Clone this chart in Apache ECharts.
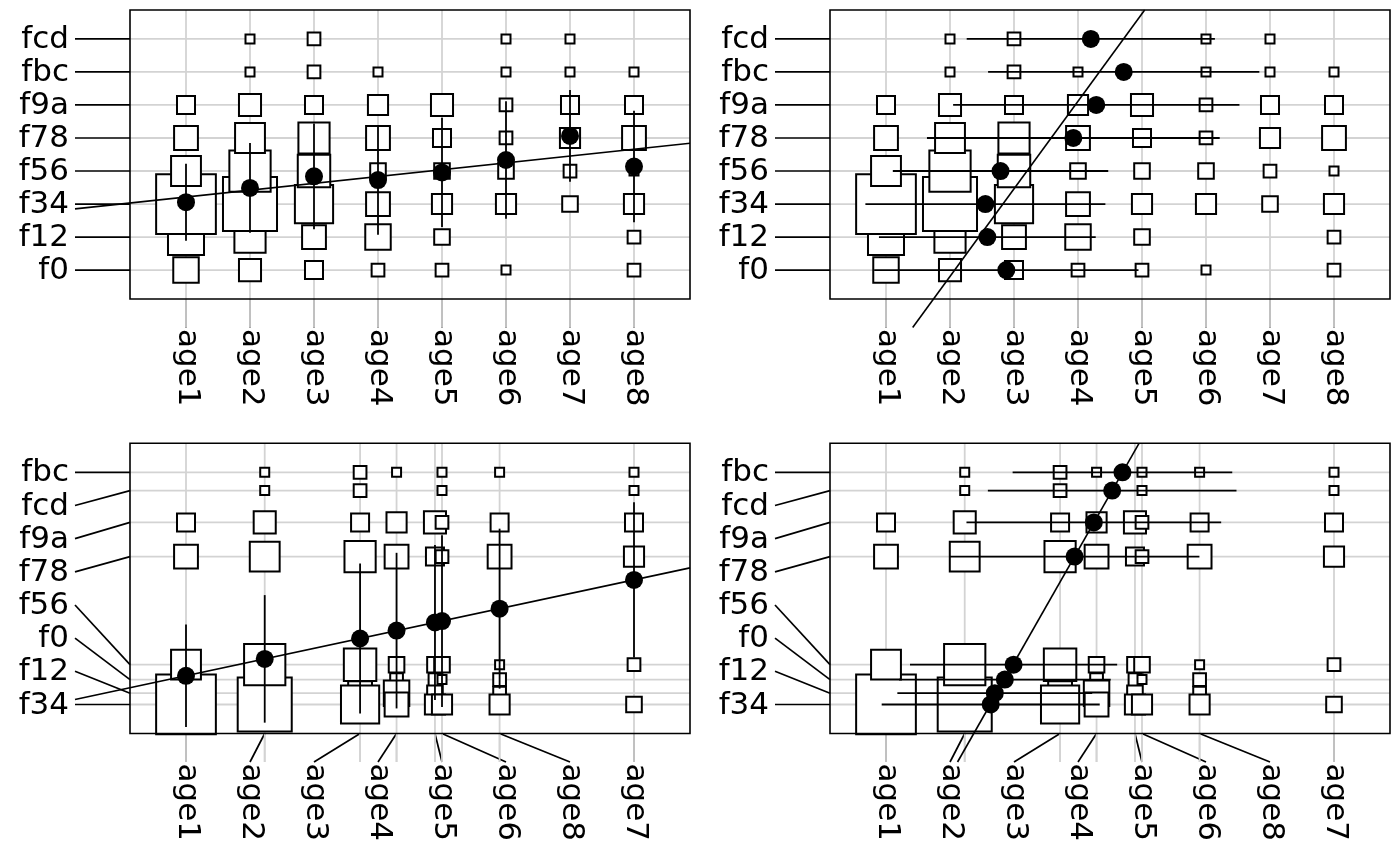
<!DOCTYPE html>
<html><head><meta charset="utf-8">
<script src="https://cdn.jsdelivr.net/npm/echarts@6/dist/echarts.min.js"></script>
<style>html,body{margin:0;padding:0;background:#fff}#c{width:1400px;height:866px}</style>
</head><body><div id="c"></div>
<script>
// ---- data (contingency table: fecundity classes x age classes) ----
const rowNames = ['f0','f12','f34','f56','f78','f9a','fbc','fcd'];
const colNames = ['age1','age2','age3','age4','age5','age6','age7','age8'];
const f0  = [8, 6, 4, 2, 2, 1, 0, 2];
const f12 = [16, 12, 7, 8, 3, 0, 0, 2];
const f34 = [44, 36, 18, 7, 5, 5, 3, 5];
const f56 = [11, 21, 13, 3, 3, 3, 2, 1];
const f78 = [7, 11, 12, 7, 4, 2, 5, 7];
const f9a = [4, 6, 4, 5, 6, 2, 4, 4];
const fbc = [0, 1, 2, 1, 0, 1, 1, 1];
const fcd = [0, 1, 2, 0, 0, 1, 1, 0];
const counts = [f0, f12, f34, f56, f78, f9a, fbc, fcd];
// positions: rank positions (top) and correspondence-analysis scores rescaled to 1..8 (bottom)
const rowIndexPos = [1, 2, 3, 4, 5, 6, 7, 8];
const colIndexPos = [1, 2, 3, 4, 5, 6, 7, 8];
const rowScore = [1.75, 1.34, 1.00, 2.20, 5.46, 6.49, 8.00, 7.45];
const colScore = [1.00, 2.23, 3.72, 4.29, 4.89, 5.00, 8.00, 5.90];

// ---- layout ----
const W = 700, H = 433;
const FONT = 'DejaVu Sans', FS = 31;
const panels = [
  {left: 0,   top: 0,   box: [130, 690, 10, 299],      xp: colIndexPos, yp: rowIndexPos, mode: 'x'},
  {left: 700, top: 0,   box: [830, 1390, 10, 299],     xp: colIndexPos, yp: rowIndexPos, mode: 'y'},
  {left: 0,   top: 433, box: [130, 690, 443.3, 733.5], xp: colScore,    yp: rowScore,    mode: 'x'},
  {left: 700, top: 433, box: [830, 1390, 443.3, 733.5], xp: colScore,   yp: rowScore,    mode: 'y'}
];

function labelPositions(pos) {
  const n = pos.length, mn = Math.min(...pos), mx = Math.max(...pos);
  const idx = pos.map((p, i) => i).sort((a, b) => pos[a] - pos[b]);
  const out = new Array(n);
  idx.forEach((i, r) => { out[i] = mn + r * (mx - mn) / (n - 1); });
  return out;
}

let maxN = 0;
counts.forEach(r => r.forEach(v => { if (v > maxN) maxN = v; }));

const grids = [], xAxes = [], yAxes = [], series = [];

panels.forEach((P, k) => {
  const [bx0, bx1, by0, by1] = P.box;
  const sx = (bx1 - bx0) / 8.75, sy = (by1 - by0) / 8.75;
  grids.push({left: P.left, top: P.top, width: W, height: H});
  xAxes.push({type: 'value', gridIndex: k, show: false,
    min: 0.125 - (bx0 - P.left) / sx, max: 0.125 + (P.left + W - bx0) / sx});
  yAxes.push({type: 'value', gridIndex: k, show: false,
    min: 0.125 - (P.top + H - by1) / sy, max: 0.125 + (by1 - P.top) / sy});
  const xp = P.xp, yp = P.yp;
  const xl = labelPositions(xp), yl = labelPositions(yp);
  const base = {xAxisIndex: k, yAxisIndex: k, silent: true, animation: false};

  // gray grid lines
  const gridData = [];
  xp.forEach(x => gridData.push([x, 0, 0]));
  yp.forEach(y => gridData.push([0, y, 1]));
  series.push(Object.assign({}, base, {type: 'custom', z: 1, data: gridData,
    renderItem: (params, api) => {
      const lo = api.coord([0.125, 0.125]), hi = api.coord([8.875, 8.875]);
      if (api.value(2) === 0) {
        const x = api.coord([api.value(0), 0.125])[0];
        return {type: 'line', shape: {x1: x, y1: hi[1], x2: x, y2: lo[1] + 28.5},
          style: {stroke: '#d3d3d3', lineWidth: 1.8}};
      }
      const y = api.coord([0.125, api.value(1)])[1];
      return {type: 'line', shape: {x1: lo[0], y1: y, x2: hi[0], y2: y},
        style: {stroke: '#d3d3d3', lineWidth: 1.8}};
    }}));

  // label connectors
  const conData = [];
  xp.forEach((x, j) => conData.push([x, xl[j], 0]));
  yp.forEach((y, i) => conData.push([y, yl[i], 1]));
  series.push(Object.assign({}, base, {type: 'custom', z: 1, data: conData,
    renderItem: (params, api) => {
      const lo = api.coord([0.125, 0.125]);
      if (api.value(2) === 0) {
        const ax = api.coord([api.value(0), 0.125])[0];
        const lx = api.coord([api.value(1), 0.125])[0];
        return {type: 'line', shape: {x1: lx, y1: lo[1] + 28.5, x2: ax, y2: lo[1]},
          style: {stroke: '#000', lineWidth: 1.7}};
      }
      const ay = api.coord([0.125, api.value(0)])[1];
      const ly = api.coord([0.125, api.value(1)])[1];
      return {type: 'line', shape: {x1: lo[0] - 55, y1: ly, x2: lo[0], y2: ay},
        style: {stroke: '#000', lineWidth: 1.7}};
    }}));
  // gray column lines over vertical connectors
  series.push(Object.assign({}, base, {type: 'custom', z: 1, data: xp.map(x => [x, 0]),
    renderItem: (params, api) => {
      const lo = api.coord([0.125, 0.125]);
      const x = api.coord([api.value(0), 0.125])[0];
      return {type: 'line', shape: {x1: x, y1: lo[1], x2: x, y2: lo[1] + 28.5},
        style: {stroke: '#d3d3d3', lineWidth: 1.8}};
    }}));

  // squares (column-major order, rows bottom to top)
  const sqData = [];
  xp.forEach((x, j) => {
    yp.forEach((y, i) => { if (counts[i][j] > 0) sqData.push([x, y, counts[i][j]]); });
  });
  const range = Math.max(...xp) - Math.min(...xp);
  const sqMax = 2 * (range / 15) * sx;
  series.push(Object.assign({}, base, {type: 'scatter', z: 2, clip: false, data: sqData,
    symbol: 'rect', symbolSize: v => sqMax * Math.sqrt(v[2] / maxN),
    itemStyle: {color: '#fff', borderColor: '#000', borderWidth: 2, opacity: 1}}));

  // weighted means and standard deviations
  const meanData = [];
  if (P.mode === 'x') {
    xp.forEach((x, j) => {
      let w = 0, s = 0, s2 = 0;
      yp.forEach((y, i) => { const n = counts[i][j]; w += n; s += n * y; s2 += n * y * y; });
      const m = s / w; meanData.push([x, m, Math.sqrt(Math.max(0, s2 / w - m * m))]);
    });
  } else {
    yp.forEach((y, i) => {
      let w = 0, s = 0, s2 = 0;
      xp.forEach((x, j) => { const n = counts[i][j]; w += n; s += n * x; s2 += n * x * x; });
      const m = s / w; meanData.push([m, y, Math.sqrt(Math.max(0, s2 / w - m * m))]);
    });
  }
  series.push(Object.assign({}, base, {type: 'custom', z: 3, data: meanData,
    renderItem: (params, api) => {
      const x = api.value(0), y = api.value(1), sd = api.value(2);
      let a, b;
      if (P.mode === 'x') { a = api.coord([x, y - sd]); b = api.coord([x, y + sd]); }
      else { a = api.coord([x - sd, y]); b = api.coord([x + sd, y]); }
      return {type: 'line', shape: {x1: a[0], y1: a[1], x2: b[0], y2: b[1]},
        style: {stroke: '#000', lineWidth: 1.8}};
    }}));

  // weighted regression line
  let W0 = 0, Sx = 0, Sy = 0;
  xp.forEach((x, j) => yp.forEach((y, i) => { const n = counts[i][j]; W0 += n; Sx += n * x; Sy += n * y; }));
  const mx = Sx / W0, my = Sy / W0;
  let Sxx = 0, Syy = 0, Sxy = 0;
  xp.forEach((x, j) => yp.forEach((y, i) => {
    const n = counts[i][j]; Sxx += n * (x - mx) ** 2; Syy += n * (y - my) ** 2; Sxy += n * (x - mx) * (y - my);
  }));
  let p0, d;
  if (P.mode === 'x') { p0 = [mx, my]; d = [1, Sxy / Sxx]; }
  else { p0 = [mx, my]; d = [Sxy / Syy, 1]; }
  const cx0 = 0.125 - 55 / sx, cx1 = 8.875, cy0 = 0.125 - 28.5 / sy, cy1 = 8.875;
  let t0 = -1e9, t1 = 1e9;
  [[d[0], p0[0], cx0, cx1], [d[1], p0[1], cy0, cy1]].forEach(([dv, pv, lo, hi]) => {
    if (Math.abs(dv) < 1e-12) return;
    let ta = (lo - pv) / dv, tb = (hi - pv) / dv;
    if (ta > tb) { const t = ta; ta = tb; tb = t; }
    t0 = Math.max(t0, ta); t1 = Math.min(t1, tb);
  });
  series.push(Object.assign({}, base, {type: 'line', z: 3, clip: false, showSymbol: false,
    data: [[p0[0] + d[0] * t0, p0[1] + d[1] * t0], [p0[0] + d[0] * t1, p0[1] + d[1] * t1]],
    lineStyle: {color: '#000', width: 1.6}}));

  // mean dots
  series.push(Object.assign({}, base, {type: 'scatter', z: 4, clip: false,
    data: meanData.map(v => [v[0], v[1]]), symbol: 'circle', symbolSize: 18,
    itemStyle: {color: '#000', opacity: 1}}));

  // frame
  series.push(Object.assign({}, base, {type: 'custom', z: 5, data: [[0.125, 0.125]],
    renderItem: (params, api) => {
      const a = api.coord([0.125, 8.875]), b = api.coord([8.875, 0.125]);
      return {type: 'rect', shape: {x: a[0], y: a[1], width: b[0] - a[0], height: b[1] - a[1]},
        style: {fill: 'none', stroke: '#000', lineWidth: 1.6}};
    }}));

  // labels
  const labData = [];
  colNames.forEach((n, j) => labData.push([xl[j], 0, 0, j]));
  rowNames.forEach((n, i) => labData.push([0, yl[i], 1, i]));
  series.push(Object.assign({}, base, {type: 'custom', z: 5, data: labData,
    renderItem: (params, api) => {
      const lo = api.coord([0.125, 0.125]);
      if (api.value(2) === 0) {
        const x = api.coord([api.value(0), 0.125])[0];
        return {type: 'text', x: x + 1, y: lo[1] + 30, rotation: -Math.PI / 2,
          style: {text: colNames[api.value(3)], fill: '#000', fontSize: FS, fontFamily: FONT,
            align: 'left', verticalAlign: 'middle'}};
      }
      const y = api.coord([0.125, api.value(1)])[1];
      return {type: 'text', x: lo[0] - 61, y: y + 1,
        style: {text: rowNames[api.value(3)], fill: '#000', fontSize: FS, fontFamily: FONT,
          align: 'right', verticalAlign: 'middle'}};
    }}));
});

const chart = echarts.init(document.getElementById('c'));
chart.setOption({animation: false, backgroundColor: '#fff', grid: grids, xAxis: xAxes, yAxis: yAxes, series: series});
</script>
</body></html>
